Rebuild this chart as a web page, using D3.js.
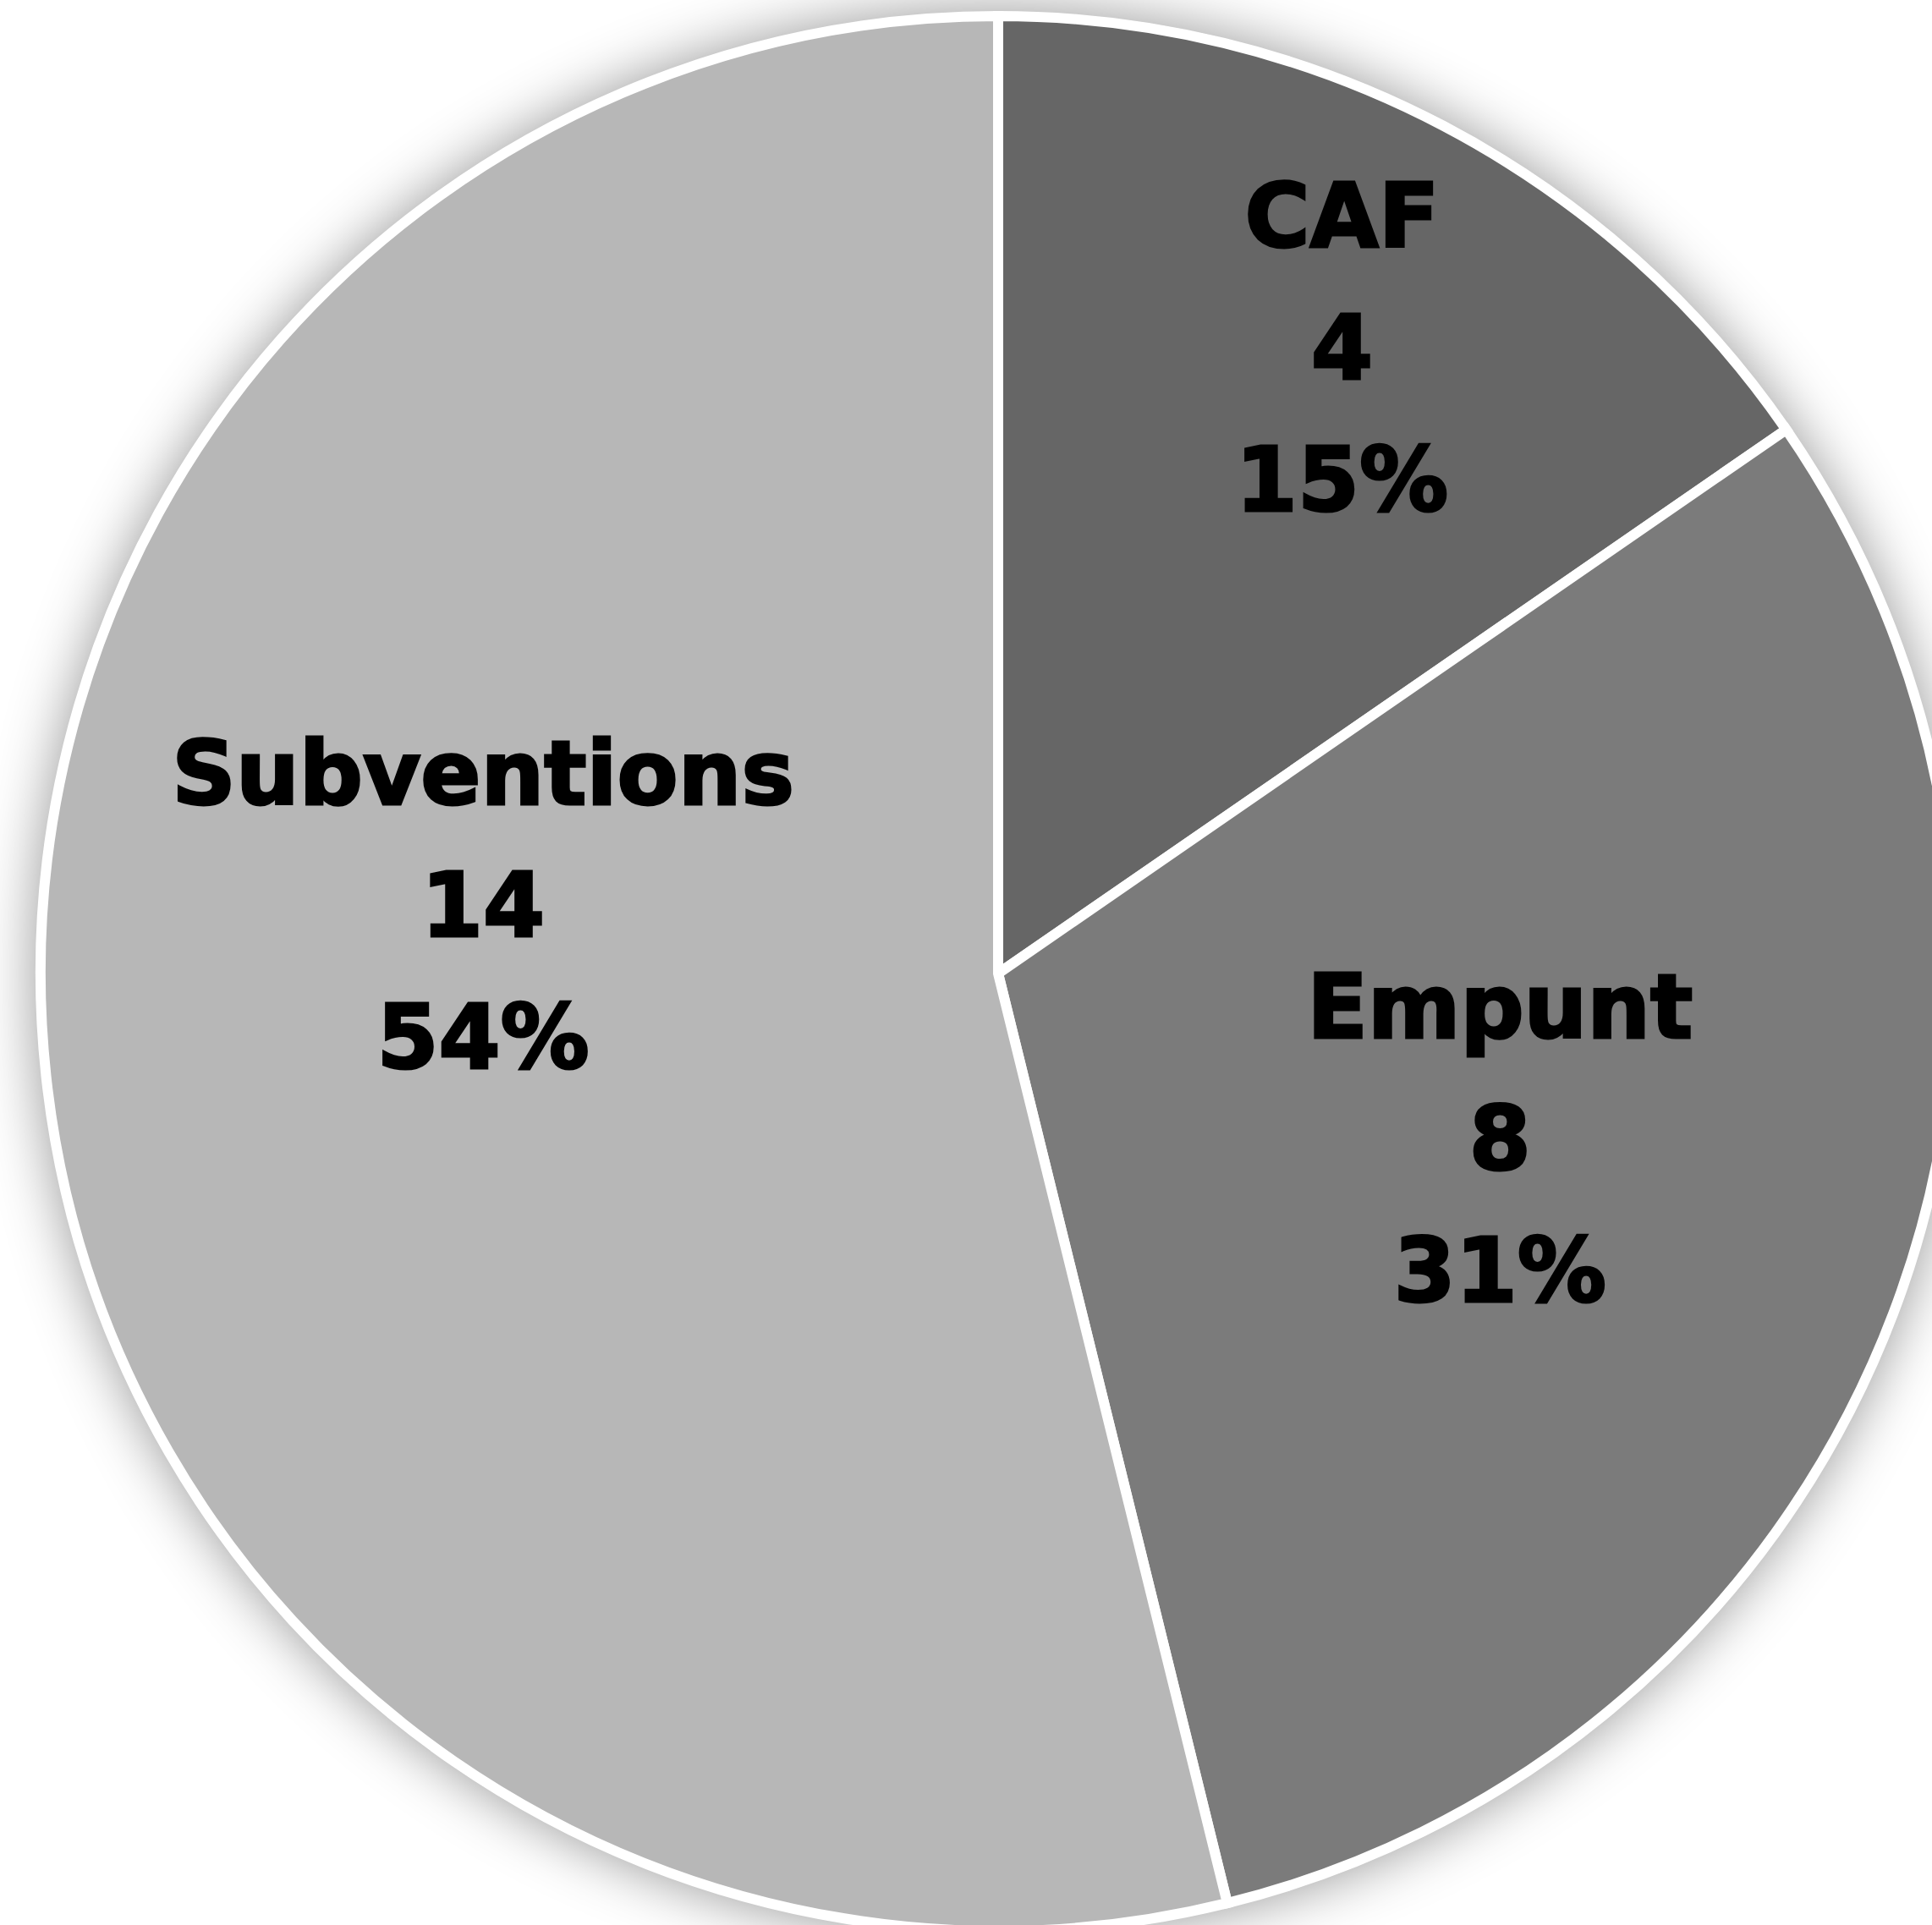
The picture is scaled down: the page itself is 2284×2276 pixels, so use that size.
<!DOCTYPE html>
<html>
<head>
<meta charset="utf-8">
<script src="https://cdn.jsdelivr.net/npm/d3@7"></script>
<style>
  html, body { margin: 0; padding: 0; background: #ffffff; }
  svg { display: block; }
</style>
</head>
<body>
<svg id="chart" width="2284" height="2276"></svg>
<script>
// ---- data ----
const categories = ["CAF", "Empunt", "Subventions"];
const values = [4, 8, 14];
const colors = ["#666666", "#7b7b7b", "#b7b7b7"];
// label placement (fraction of radius, angular offset in degrees from slice middle)
const labelRadiusFrac = [0.748, 0.551, 0.543];
const labelAngleOffset = [1.0, -2.8, 14.8];

const W = 2284, H = 2276;
const cx = 1180, cy = 1151, R = 1132;

const svg = d3.select("#chart");
const defs = svg.append("defs");
const f = defs.append("filter").attr("id", "shadow")
  .attr("x", "-20%").attr("y", "-20%").attr("width", "140%").attr("height", "140%");
f.append("feDropShadow").attr("dx", 0).attr("dy", 0)
  .attr("stdDeviation", 34).attr("flood-color", "#000").attr("flood-opacity", 0.42);

svg.append("rect").attr("width", W).attr("height", H).attr("fill", "#ffffff");

const g = svg.append("g").attr("transform", `translate(${cx},${cy})`);

const total = d3.sum(values);
const data = categories.map((c, i) => ({ name: c, value: values[i], color: colors[i], i }));

const pie = d3.pie().value(d => d.value).sort(null);
const arcs = pie(data);
const arc = d3.arc().innerRadius(0).outerRadius(R);

// shadow disc
g.append("circle").attr("r", R + 5).attr("fill", "#ffffff").attr("filter", "url(#shadow)");

g.selectAll("path.slice").data(arcs).join("path")
  .attr("class", "slice")
  .attr("d", arc)
  .attr("fill", d => d.data.color)
  .attr("stroke", "#ffffff")
  .attr("stroke-width", 12)
  .attr("stroke-linejoin", "miter");

const pct = d3.format(".0%");
const lineH = 156;
const labels = g.selectAll("g.label").data(arcs).join("g")
  .attr("class", "label")
  .attr("transform", d => {
    const a = (d.startAngle + d.endAngle) / 2 + labelAngleOffset[d.data.i] * Math.PI / 180;
    const r = R * labelRadiusFrac[d.data.i];
    return `translate(${r * Math.sin(a)},${-r * Math.cos(a)})`;
  });

labels.each(function(d) {
  const lines = [d.data.name, String(d.data.value), pct(d.data.value / total)];
  const sel = d3.select(this);
  lines.forEach((t, k) => {
    sel.append("text")
      .attr("x", 0)
      .attr("y", (k - 1) * lineH + 40)
      .attr("text-anchor", "middle")
      .attr("font-family", "'DejaVu Sans', sans-serif")
      .attr("font-weight", "bold")
      .attr("font-size", 105)
      .attr("fill", "#000")
      .attr("stroke", "#000")
      .attr("stroke-width", 3)
      .attr("stroke-linejoin", "miter")
      .text(t);
  });
});
</script>
</body>
</html>
